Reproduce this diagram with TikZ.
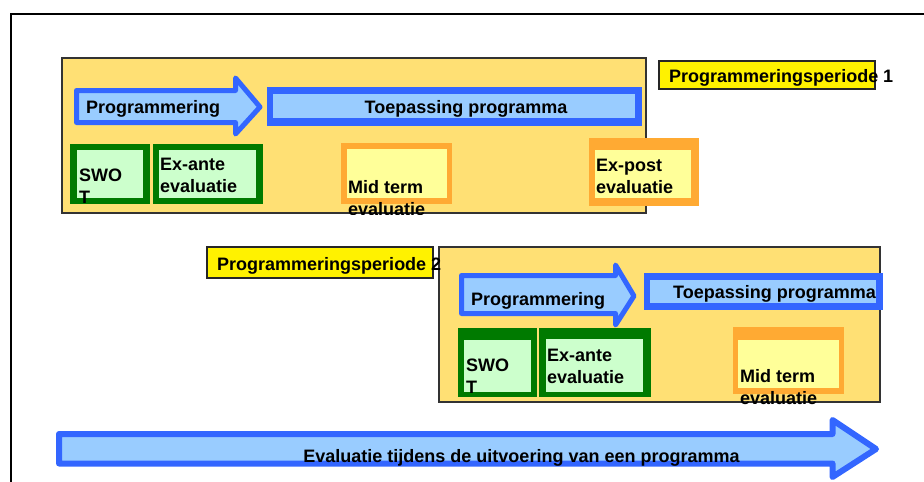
\documentclass[tikz,border=0pt]{standalone}
\usepackage{fontspec}
\setmainfont{Liberation Sans}
\definecolor{panelfill}{RGB}{255,224,116}
\definecolor{bluefill}{RGB}{153,204,255}
\definecolor{blueline}{RGB}{51,102,255}
\definecolor{greenfill}{RGB}{204,255,204}
\definecolor{greenline}{RGB}{0,122,0}
\definecolor{orangefill}{RGB}{255,255,153}
\definecolor{orangeline}{RGB}{255,170,51}
\tikzset{
  panel/.style={fill=panelfill, draw=black!80, line width=1.5pt},
  periodbox/.style={fill=yellow, draw=black!85, line width=1.5pt},
  bluearrow/.style={fill=bluefill, draw=blueline, line width=5pt, line join=round},
  txt/.style={font=\bfseries\fontsize{18}{22}\selectfont, inner sep=0pt, align=left, anchor=base west}
}
\begin{document}
\begin{tikzpicture}[x=1pt,y=-1pt]
\useasboundingbox (0,0) rectangle (924,482);
\clip (0,0) rectangle (924,482);
\draw[line width=2pt] (11,490) -- (11,14) -- (930,14);
% periode 1
\draw[panel] (62,58) rectangle (646,213);
\draw[periodbox] (659,61) rectangle (875,89);
\draw[bluearrow] (76.5,90.5) -- (235.5,90.5) -- (235.5,78) -- (260,107) -- (235.5,134)
  -- (235.5,122.5) -- (76.5,122.5) -- cycle;
\fill[blueline] (267,87) rectangle (642,126);
\fill[bluefill] (273,94) rectangle (635,118);
\fill[greenline] (70,144) rectangle (150,204);
\fill[greenfill] (77,150) rectangle (143,198);
\fill[greenline] (153,144) rectangle (263,204);
\fill[greenfill] (159,150) rectangle (256,198);
\fill[orangeline] (341,143) rectangle (452,204);
\fill[orangefill] (347,149) rectangle (447,198);
\fill[orangeline] (589,138) rectangle (699,206);
\fill[orangefill] (595,150) rectangle (691,198);
% periode 2
\draw[periodbox] (207,247) rectangle (433,278);
\draw[panel] (439,247) rectangle (880,402);
\draw[bluearrow] (461.5,275.5) -- (615.5,275.5) -- (615.5,265) -- (634,296) -- (615.5,325)
  -- (615.5,313.5) -- (461.5,313.5) -- cycle;
\fill[blueline] (644,273) rectangle (883,310);
\fill[bluefill] (650,280) rectangle (876,303);
\fill[greenline] (458,328) rectangle (537,397);
\fill[greenfill] (464,340) rectangle (531,392);
\fill[greenline] (539,328) rectangle (651,397);
\fill[greenfill] (546,339) rectangle (643,392);
\fill[orangeline] (733,327) rectangle (844,394);
\fill[orangefill] (738,340) rectangle (839,388);
% uitvoering
\draw[bluearrow, line width=6pt] (59,434) -- (832.5,434) -- (832.5,420) -- (876,449) -- (832.5,477)
  -- (832.5,463.5) -- (59,463.5) -- cycle;
% teksten (base = laatste regel)
\node[txt] (per1) at (669,82) {Programmeringsperiode 1};
\node[txt] (prog1) at (86,113) {Programmering};
\node[txt, anchor=base] (toep1) at (466,113) {Toepassing programma};
\node[txt] (swot1) at (79,203) {SWO\\T};
\node[txt] (exante1) at (160,192) {Ex-ante\\evaluatie};
\begin{scope}
\clip (62,0) rectangle (646,214);
\node[txt] (mid1) at (348,215) {Mid term\\evaluatie};
\end{scope}
\node[txt] (expost1) at (596,193) {Ex-post\\evaluatie};
\node[txt] (per2) at (217,270) {Programmeringsperiode 2};
\node[txt] (prog2) at (471,305) {Programmering};
\node[txt] (toep2) at (673,298) {Toepassing programma};
\node[txt] (swot2) at (466,393) {SWO\\T};
\node[txt] (exante2) at (547,383) {Ex-ante\\evaluatie};
\begin{scope}
\clip (439,240) rectangle (880,405);
\node[txt] (mid2) at (740,404) {Mid term\\evaluatie};
\end{scope}
\node[txt, anchor=base] (uitv) at (521.5,462) {Evaluatie tijdens de uitvoering van een programma};
\end{tikzpicture}
\end{document}
